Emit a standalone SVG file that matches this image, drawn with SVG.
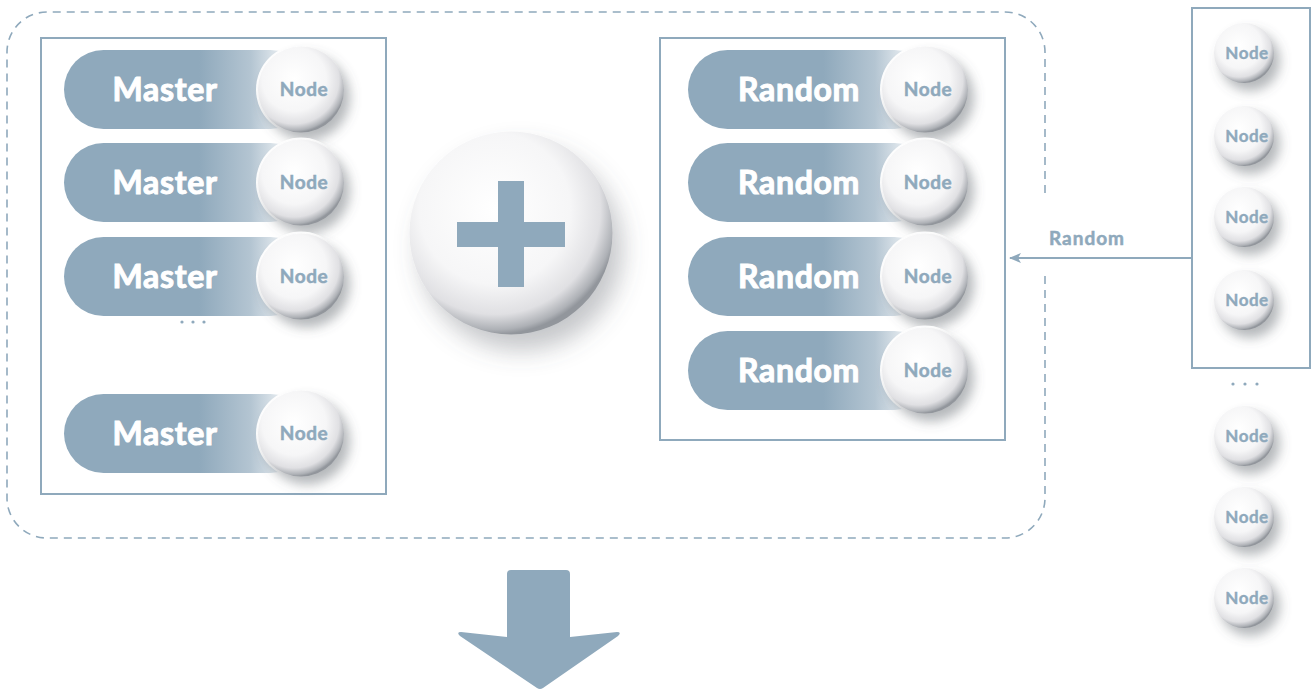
<svg xmlns="http://www.w3.org/2000/svg" width="1314" height="691" viewBox="0 0 1314 691">
<defs>
  <linearGradient id="pill" x1="0" y1="0" x2="1" y2="0">
    <stop offset="0" stop-color="#8fa9bc"/>
    <stop offset="0.55" stop-color="#8fa9bc"/>
    <stop offset="0.76" stop-color="#b4c5d2"/>
    <stop offset="0.9" stop-color="#eef2f5"/>
    <stop offset="1" stop-color="#ffffff"/>
  </linearGradient>
  <radialGradient id="ball" cx="0.42" cy="0.38" r="0.62">
    <stop offset="0" stop-color="#ffffff"/>
    <stop offset="0.6" stop-color="#f6f6f7"/>
    <stop offset="0.84" stop-color="#e0e0e3"/>
    <stop offset="0.96" stop-color="#aeb1b6"/>
    <stop offset="1" stop-color="#92969c"/>
  </radialGradient>
  <filter id="shadow" x="-40%" y="-40%" width="200%" height="200%">
    <feDropShadow dx="6" dy="8" stdDeviation="6" flood-color="#5a6068" flood-opacity="0.45"/>
  </filter>
  <filter id="bigshadow" x="-40%" y="-40%" width="200%" height="200%">
    <feDropShadow dx="10" dy="16" stdDeviation="12" flood-color="#5a6068" flood-opacity="0.35"/>
  </filter>
  <marker id="arrow" viewBox="0 0 12 10" refX="11" refY="5" markerWidth="12" markerHeight="10" markerUnits="userSpaceOnUse" orient="auto">
    <path d="M12,5 L0,0 L3,5 L0,10 Z" fill="#8fa9bc"/>
  </marker>
</defs>
<style>
  .box{fill:none;stroke:#8fa9bc;stroke-width:2}
  .dash{fill:none;stroke:#8fa9bc;stroke-width:1.6;stroke-dasharray:8 6}
  .pill{fill:url(#pill)}
  .ball{fill:url(#ball);filter:url(#shadow)}
  .halo{fill:#ffffff}
  .lbl{font-family:Lato,"Liberation Sans",sans-serif;font-weight:700;font-size:32px;letter-spacing:0.7px;fill:#ffffff;stroke:#ffffff;stroke-width:1;text-anchor:middle}
  .node{font-family:Lato,"Liberation Sans",sans-serif;font-weight:700;font-size:19px;letter-spacing:0.6px;fill:#8fa9bc;stroke:#8fa9bc;stroke-width:0.5;text-anchor:middle}
  .snode{font-family:Lato,"Liberation Sans",sans-serif;font-weight:700;font-size:17px;letter-spacing:0.5px;fill:#8fa9bc;stroke:#8fa9bc;stroke-width:0.4;text-anchor:middle}
  .dot{fill:#8fa9bc}
  .conn{fill:none;stroke:#8fa9bc;stroke-width:2}
  .clbl{font-family:Lato,"Liberation Sans",sans-serif;font-weight:700;font-size:19px;letter-spacing:1px;fill:#8fa9bc;stroke:#8fa9bc;stroke-width:0.5;text-anchor:middle}
</style>
<rect width="1314" height="691" fill="#ffffff"/>

<!-- dashed outer container with gap on right side -->
<path class="dash" d="M1045,193 L1045,52 A40,40 0 0 0 1005,12 L47,12 A40,40 0 0 0 7,52 L7,498 A40,40 0 0 0 47,538 L1005,538 A40,40 0 0 0 1045,498 L1045,275"/>

<g id="master-box">
  <rect class="box" x="41" y="38" width="345" height="456"/>
</g>
<g id="random-box">
  <rect class="box" x="660" y="38" width="345" height="402"/>
</g>
<g id="pool-box">
  <rect class="box" x="1192" y="8" width="118" height="360"/>
</g>

<g id="master1">
  <rect class="pill" x="64" y="50" width="246" height="79" rx="39.5"/>
  <text class="lbl" x="165" y="101">Master</text>
  <circle class="halo" cx="301" cy="89.5" r="45"/>
  <circle class="ball" cx="301" cy="89.5" r="43"/>
  <text class="node" x="304" y="96">Node</text>
</g>
<g id="master2">
  <rect class="pill" x="64" y="143" width="246" height="79" rx="39.5"/>
  <text class="lbl" x="165" y="194">Master</text>
  <circle class="halo" cx="301" cy="182.5" r="45"/>
  <circle class="ball" cx="301" cy="182.5" r="43"/>
  <text class="node" x="304" y="189">Node</text>
</g>
<g id="master3">
  <rect class="pill" x="64" y="237" width="246" height="79" rx="39.5"/>
  <text class="lbl" x="165" y="288">Master</text>
  <circle class="halo" cx="301" cy="276.5" r="45"/>
  <circle class="ball" cx="301" cy="276.5" r="43"/>
  <text class="node" x="304" y="283">Node</text>
</g>
<g id="master-dots">
  <circle class="dot" cx="182" cy="322" r="1.6"/>
  <circle class="dot" cx="193" cy="322" r="1.6"/>
  <circle class="dot" cx="204" cy="322" r="1.6"/>
</g>
<g id="master4">
  <rect class="pill" x="64" y="394" width="246" height="79" rx="39.5"/>
  <text class="lbl" x="165" y="445">Master</text>
  <circle class="halo" cx="301" cy="433.5" r="45"/>
  <circle class="ball" cx="301" cy="433.5" r="43"/>
  <text class="node" x="304" y="440">Node</text>
</g>

<g id="plus">
  <circle cx="511" cy="233" r="101.5" fill="url(#ball)" filter="url(#bigshadow)"/>
  <rect x="498" y="181" width="26" height="106" fill="#8fa9bc"/>
  <rect x="457" y="222" width="108" height="25" fill="#8fa9bc"/>
</g>

<g id="random1">
  <rect class="pill" x="688" y="50" width="246" height="79" rx="39.5"/>
  <text class="lbl" x="799" y="101">Random</text>
  <circle class="halo" cx="925" cy="89.5" r="45"/>
  <circle class="ball" cx="925" cy="89.5" r="43"/>
  <text class="node" x="928" y="96">Node</text>
</g>
<g id="random2">
  <rect class="pill" x="688" y="143" width="246" height="79" rx="39.5"/>
  <text class="lbl" x="799" y="194">Random</text>
  <circle class="halo" cx="925" cy="182.5" r="45"/>
  <circle class="ball" cx="925" cy="182.5" r="43"/>
  <text class="node" x="928" y="189">Node</text>
</g>
<g id="random3">
  <rect class="pill" x="688" y="237" width="246" height="79" rx="39.5"/>
  <text class="lbl" x="799" y="288">Random</text>
  <circle class="halo" cx="925" cy="276.5" r="45"/>
  <circle class="ball" cx="925" cy="276.5" r="43"/>
  <text class="node" x="928" y="283">Node</text>
</g>
<g id="random4">
  <rect class="pill" x="688" y="331" width="246" height="79" rx="39.5"/>
  <text class="lbl" x="799" y="382">Random</text>
  <circle class="halo" cx="925" cy="370.5" r="45"/>
  <circle class="ball" cx="925" cy="370.5" r="43"/>
  <text class="node" x="928" y="377">Node</text>
</g>

<g id="pool-node1"><circle class="ball" cx="1244" cy="53" r="30"/><text class="snode" x="1247" y="59">Node</text></g>
<g id="pool-node2"><circle class="ball" cx="1244" cy="136" r="30"/><text class="snode" x="1247" y="142">Node</text></g>
<g id="pool-node3"><circle class="ball" cx="1244" cy="217" r="30"/><text class="snode" x="1247" y="223">Node</text></g>
<g id="pool-node4"><circle class="ball" cx="1244" cy="300" r="30"/><text class="snode" x="1247" y="306">Node</text></g>
<g id="pool-dots">
  <circle class="dot" cx="1233" cy="384" r="1.6"/>
  <circle class="dot" cx="1245" cy="384" r="1.6"/>
  <circle class="dot" cx="1257" cy="384" r="1.6"/>
</g>
<g id="pool-node5"><circle class="ball" cx="1244" cy="436" r="30"/><text class="snode" x="1247" y="442">Node</text></g>
<g id="pool-node6"><circle class="ball" cx="1244" cy="517" r="30"/><text class="snode" x="1247" y="523">Node</text></g>
<g id="pool-node7"><circle class="ball" cx="1244" cy="598" r="30"/><text class="snode" x="1247" y="604">Node</text></g>

<g id="connectors">
  <line class="conn" x1="1192" y1="258" x2="1010" y2="258" marker-end="url(#arrow)"/>
  <text class="clbl" x="1087" y="245">Random</text>
  <path d="M511,570 L566,570 Q570,570 570,574 L570,637 L617,632 Q622,632 618,636 L543,688 Q540,690 537,688 L460,636 Q456,632 461,632 L507,637 L507,574 Q507,570 511,570 Z" fill="#8fa9bc"/>
</g>
</svg>
